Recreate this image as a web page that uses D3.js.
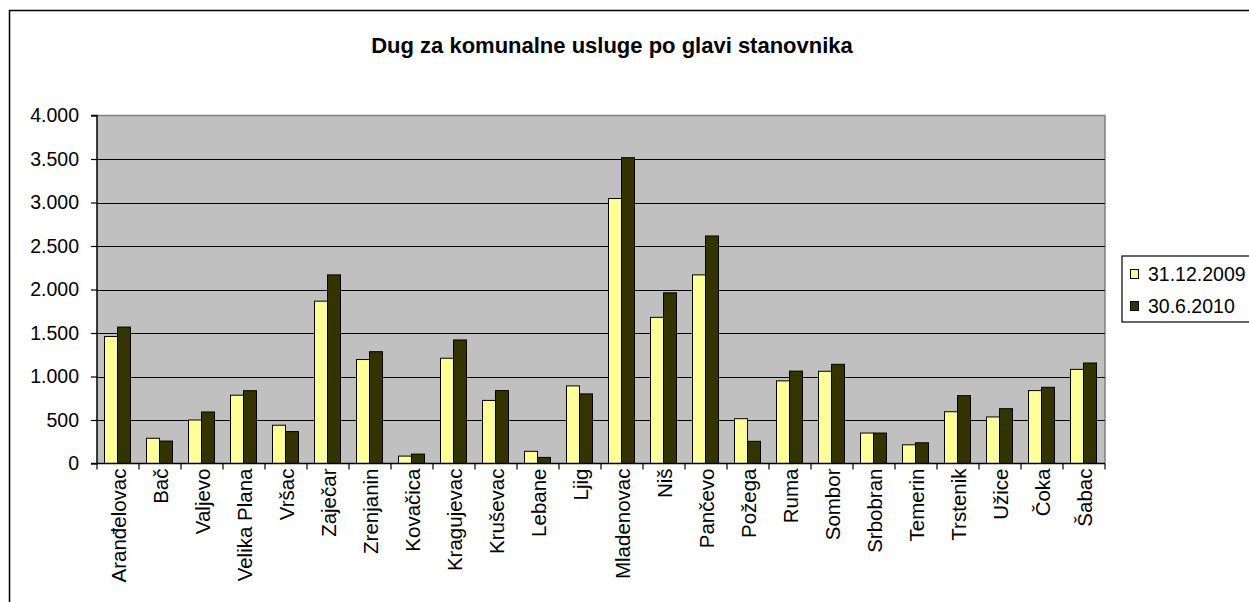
<!DOCTYPE html>
<html><head><meta charset="utf-8">
<script src="https://cdn.jsdelivr.net/npm/d3@7/dist/d3.min.js"></script>
<style>
body{margin:0;background:#fff;}
svg{display:block;font-family:"Liberation Sans",Arial,sans-serif;}
</style></head>
<body>
<svg id="chart" width="1249" height="602"></svg>
<script>
const categories = ["Aranđelovac","Bač","Valjevo","Velika Plana","Vršac","Zaječar","Zrenjanin","Kovačica","Kragujevac","Kruševac","Lebane","Ljig","Mladenovac","Niš","Pančevo","Požega","Ruma","Sombor","Srbobran","Temerin","Trstenik","Užice","Čoka","Šabac"];
const series2009 = [1460,290,500,785,440,1866,1195,85,1210,725,140,892,3046,1680,2168,515,950,1060,350,215,595,535,838,1082];
const series2010 = [1568,258,592,837,367,2168,1285,108,1420,838,70,800,3515,1962,2615,255,1062,1140,350,238,780,630,876,1155];
const seriesNames = ["31.12.2009","30.6.2010"];
const yTicks = [0,500,1000,1500,2000,2500,3000,3500,4000];
const title = "Dug za komunalne usluge po glavi stanovnika";

(function(){
const svg = d3.select("#chart");
const colors = ["#FFFF99","#333300"];
const pL = 97, pR = 1105, pT = 115.5, pB = 463.5;

svg.append("rect").attr("x",9.5).attr("y",10.5).attr("width",1260).attr("height",620)
  .attr("fill","#fff").attr("stroke","#000").attr("stroke-width",1.5);

const x = d3.scaleBand().domain(categories).range([pL,pR]).paddingInner(0).paddingOuter(0);
const xs = d3.scaleBand().domain([0,1]).range([7.5, x.bandwidth()-8.5]).padding(0);
const y = d3.scaleLinear().domain([0,4000]).range([pB, pT]);

svg.append("rect").attr("x",pL).attr("y",pT).attr("width",pR-pL).attr("height",pB-pT)
  .attr("fill","#C0C0C0");
svg.append("path").attr("d",`M${pL},${pT}H${pR}V${pB}`).attr("fill","none")
  .attr("stroke","#808080").attr("stroke-width",1.5);

svg.append("g").selectAll("line").data(yTicks.filter(d=>d>0 && d<4000)).join("line")
  .attr("x1",pL).attr("x2",pR).attr("y1",d=>Math.round(y(d))+0.5).attr("y2",d=>Math.round(y(d))+0.5)
  .attr("stroke","#000").attr("stroke-width",1);

const data = categories.map((c,i)=>({c, v:[series2009[i], series2010[i]]}));
const g = svg.append("g");
data.forEach(d=>{
  d.v.forEach((v,k)=>{
    g.append("rect")
      .attr("x", x(d.c)+xs(k))
      .attr("y", y(v))
      .attr("width", xs.bandwidth())
      .attr("height", pB - y(v))
      .attr("fill", colors[k]).attr("stroke","#000").attr("stroke-width",1);
  });
});

const loc = d3.formatLocale({decimal:",", thousands:".", grouping:[3], currency:["",""]});
const fmt = loc.format(",d");

const yAxis = d3.axisLeft(y).tickValues(yTicks).tickFormat(fmt).tickSize(6).tickPadding(12);
const ya = svg.append("g").attr("transform",`translate(${pL},0)`).call(yAxis);
ya.select(".domain").attr("stroke","#000").attr("stroke-width",1.5).attr("d",`M-6,${pT}H0V${pB}H-6`);
ya.selectAll(".tick line").attr("stroke","#000").attr("stroke-width",1.2);
ya.selectAll("text").attr("font-size",19.5).attr("fill","#000").attr("font-family","Liberation Sans, Arial, sans-serif");

const xa = svg.append("g").attr("transform",`translate(0,${pB})`);
xa.append("line").attr("x1",pL).attr("x2",pR).attr("y1",0).attr("y2",0).attr("stroke","#000").attr("stroke-width",1.5);
const bounds = categories.map(c=>x(c)).concat([pR]);
xa.selectAll("line.tk").data(bounds).join("line").attr("class","tk")
  .attr("x1",d=>d).attr("x2",d=>d).attr("y1",0).attr("y2",6).attr("stroke","#000").attr("stroke-width",1.2);
xa.selectAll("text").data(categories).join("text")
  .attr("transform",d=>`translate(${x(d)+x.bandwidth()/2+7.5},5) rotate(-90)`)
  .attr("text-anchor","end").attr("font-size",20.5).attr("fill","#000")
  .text(d=>d);

svg.append("text").attr("x",612).attr("y",53).attr("text-anchor","middle")
  .attr("font-size",22).attr("font-weight","bold").attr("fill","#000").text(title);

const lg = svg.append("g");
lg.append("rect").attr("x",1122).attr("y",256).attr("width",140).attr("height",66)
  .attr("fill","#fff").attr("stroke","#000").attr("stroke-width",1.2);
seriesNames.forEach((n,k)=>{
  const yy = 275 + k*32;
  lg.append("rect").attr("x",1130.5).attr("y",yy-5.5).attr("width",8).attr("height",9)
    .attr("fill",colors[k]).attr("stroke","#000").attr("stroke-width",1);
  lg.append("text").attr("x",1148).attr("y",yy+6).attr("font-size",19.5).attr("fill","#000").text(n);
});
})();
</script>
</body></html>
